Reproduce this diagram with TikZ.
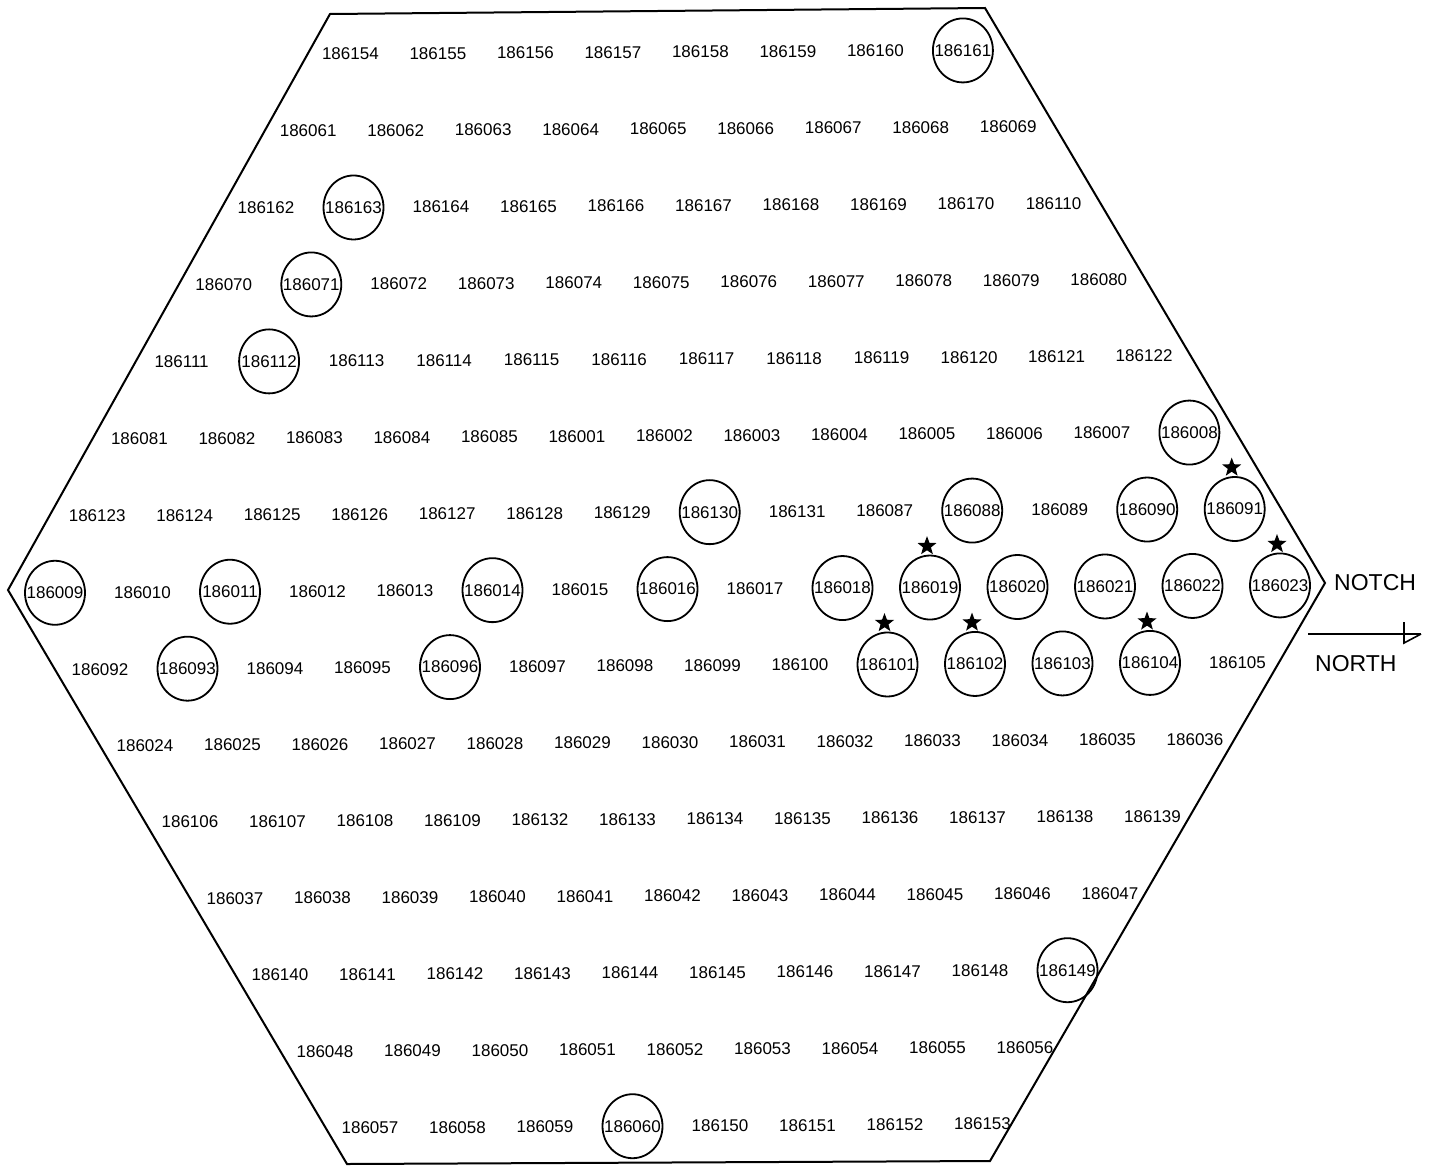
\documentclass[tikz,border=0pt]{standalone}
\usepackage{fontspec}
\setmainfont{Liberation Sans}
\usepackage{tikz}
\usetikzlibrary{shapes.geometric,positioning}

\begin{document}
\begin{tikzpicture}[
    x=1pt, y=-1pt,
    every node/.style={font=\fontsize{17}{20}\selectfont, inner sep=1pt},
    ring/.style={line width=1.8pt},
    edge/.style={line width=2pt, line join=miter},
    starmark/.style={star, star points=5, star point ratio=2.4, fill=black,
      minimum size=20pt, inner sep=0pt},
  ]
    \useasboundingbox (0,0) rectangle (1435,1165);

    % Hexagon outline
    \coordinate (hexNW) at (330,14);
    \coordinate (hexNE) at (985,8);
    \coordinate (hexE) at (1325,583);
    \coordinate (hexSE) at (990,1161);
    \coordinate (hexSW) at (347,1164);
    \coordinate (hexW) at (8,590);
    \draw[edge] (hexNW) -- (hexNE) -- (hexE) -- (hexSE) -- (hexSW) -- (hexW) -- cycle;

    % Rows of positions (0 plain, 1 circled, 2 circled with star)
    \foreach \r/\row in {
      1/{186154/0,186155/0,186156/0,186157/0,186158/0,186159/0,186160/0,186161/1},
      2/{186061/0,186062/0,186063/0,186064/0,186065/0,186066/0,186067/0,186068/0,186069/0},
      3/{186162/0,186163/1,186164/0,186165/0,186166/0,186167/0,186168/0,186169/0,186170/0,186110/0},
      4/{186070/0,186071/1,186072/0,186073/0,186074/0,186075/0,186076/0,186077/0,186078/0,186079/0,186080/0},
      5/{186111/0,186112/1,186113/0,186114/0,186115/0,186116/0,186117/0,186118/0,186119/0,186120/0,186121/0,186122/0},
      6/{186081/0,186082/0,186083/0,186084/0,186085/0,186001/0,186002/0,186003/0,186004/0,186005/0,186006/0,186007/0,186008/1},
      7/{186123/0,186124/0,186125/0,186126/0,186127/0,186128/0,186129/0,186130/1,186131/0,186087/0,186088/1,186089/0,186090/1,186091/2},
      8/{186009/1,186010/0,186011/1,186012/0,186013/0,186014/1,186015/0,186016/1,186017/0,186018/1,186019/2,186020/1,186021/1,186022/1,186023/2},
      9/{186092/0,186093/1,186094/0,186095/0,186096/1,186097/0,186098/0,186099/0,186100/0,186101/2,186102/2,186103/1,186104/2,186105/0},
      10/{186024/0,186025/0,186026/0,186027/0,186028/0,186029/0,186030/0,186031/0,186032/0,186033/0,186034/0,186035/0,186036/0},
      11/{186106/0,186107/0,186108/0,186109/0,186132/0,186133/0,186134/0,186135/0,186136/0,186137/0,186138/0,186139/0},
      12/{186037/0,186038/0,186039/0,186040/0,186041/0,186042/0,186043/0,186044/0,186045/0,186046/0,186047/0},
      13/{186140/0,186141/0,186142/0,186143/0,186144/0,186145/0,186146/0,186147/0,186148/0,186149/1},
      14/{186048/0,186049/0,186050/0,186051/0,186052/0,186053/0,186054/0,186055/0,186056/0},
      15/{186057/0,186058/0,186059/0,186060/1,186150/0,186151/0,186152/0,186153/0}} {
      \foreach \id/\k [count=\i from 0] in \row {
        \pgfmathsetmacro\px{55+43.6*abs(\r-8)+1.4*(\r-8)+87.5*\i}
        \pgfmathsetmacro\py{52+76.7*(\r-1)-0.006*(\px-700)}
        \node (n\id) at (\px,\py) {\id};
        \ifnum\k>0 \draw[ring] (n\id.center) ellipse [x radius=30, y radius=32]; \fi
        \ifnum\k>1 \node[starmark, above=37pt of n\id.center, xshift=-3pt] (s\id) {}; \fi
      }
    }

    % Notch and north arrow
    \node[font=\fontsize{23}{26}\selectfont, anchor=west] (notch) at (1333,583) {NOTCH};
    \coordinate (arrS) at (1308,634);
    \coordinate (arrE) at (1421,634);
    \coordinate (tickT) at (1404,622);
    \coordinate (tickB) at (1404,643);
    \draw[line width=1.6pt] (arrS) -- (arrE);
    \draw[line width=1.6pt] (tickT) -- (tickB) -- (arrE);
    \node[font=\fontsize{23}{26}\selectfont, anchor=west] (north) at (1314,664) {NORTH};
  \end{tikzpicture}
\end{document}
